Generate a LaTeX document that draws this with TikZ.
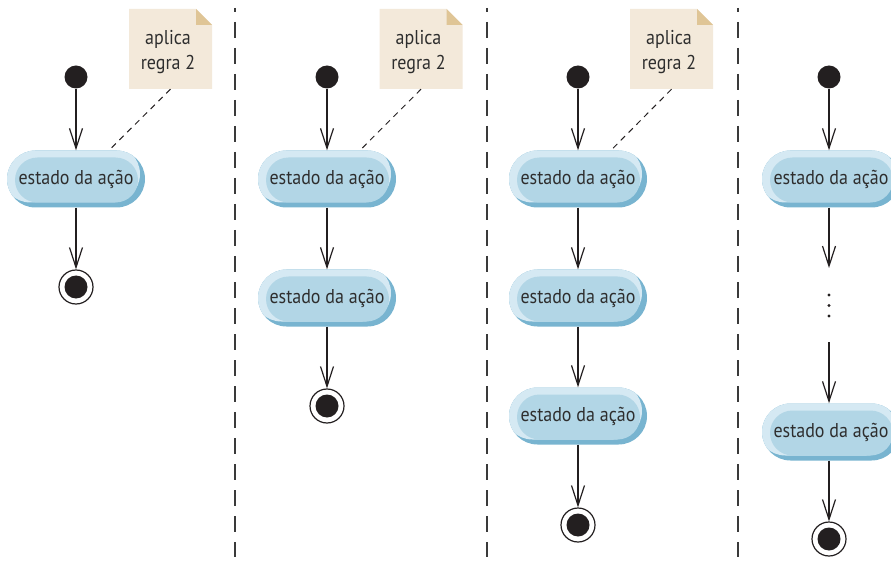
\documentclass[tikz,border=0pt]{standalone}
\usepackage{fontspec}
\setmainfont{PT Sans}[FakeStretch=0.9]
\usetikzlibrary{arrows.meta}
\definecolor{actdark}{HTML}{78B4D0}
\definecolor{actlight}{HTML}{D5E9F3}
\definecolor{actin}{HTML}{B2D6E6}
\definecolor{notefill}{HTML}{F3E9DA}
\definecolor{notefold}{HTML}{DFC596}
\definecolor{ink}{HTML}{231F20}
\definecolor{txt}{HTML}{2E2E2E}
\definecolor{sepcol}{HTML}{3A3A3A}
\newcommand{\notetext}{\hspace*{-5pt}\raisebox{-3pt}[\height][\depth]{aplica}\\\hspace*{-5pt}\raisebox{-3pt}[\height][\depth]{regra 2}}
\tikzset{
  action/.style={rectangle, rounded corners=28.5pt, minimum width=138pt, minimum height=57pt,
    inner sep=0pt, fill=actdark, text=txt, font=\fontsize{20}{24}\selectfont,
    path picture={
      \fill[actlight, rounded corners=28.5pt]
        ([xshift=-5pt,yshift=5pt]path picture bounding box.south west) rectangle
        ([xshift=-5pt,yshift=5pt]path picture bounding box.north east);
      \fill[actin, rounded corners=22.5pt]
        ([xshift=8pt,yshift=5pt]path picture bounding box.south west) rectangle
        ([xshift=-7pt,yshift=-7pt]path picture bounding box.north east);
    }},
  initial/.style={circle, fill=ink, minimum size=23pt, inner sep=0pt},
  final/.style={circle, draw=ink, line width=1.2pt, fill=white, minimum size=34pt, inner sep=0pt,
    path picture={\fill[ink] (path picture bounding box.center) circle (11.5pt);}},
  note/.style={rectangle, fill=white, minimum width=83pt, minimum height=80pt, inner sep=0pt,
    text=txt, align=center, font=\fontsize{20}{25}\selectfont,
    path picture={
      \fill[notefill] (path picture bounding box.south west) -- (path picture bounding box.north west)
        -- ([xshift=-16pt]path picture bounding box.north east)
        -- ([yshift=-16pt]path picture bounding box.north east)
        -- (path picture bounding box.south east) -- cycle;
      \fill[notefold] ([xshift=-16pt]path picture bounding box.north east)
        -- ([xshift=-16pt,yshift=-16pt]path picture bounding box.north east)
        -- ([yshift=-16pt]path picture bounding box.north east) -- cycle;
    }},
  flow/.style={draw=ink, line width=1.2pt, -{Straight Barb[length=20pt,width=13pt]}},
  notelink/.style={draw=ink, line width=1pt, dash pattern=on 6pt off 5pt},
  sepline/.style={draw=sepcol, line width=1.4pt, dash pattern=on 16pt off 10pt, dash phase=12pt},
  dotmark/.style={circle, fill=ink, minimum size=3.2pt, inner sep=0pt}
}
\begin{document}
\begin{tikzpicture}[x=1pt,y=-1pt]
\useasboundingbox (0,0) rectangle (891,561);
\clip (0,0) rectangle (891,561);

% separators
\foreach \sx [count=\i] in {235,487,738}{
  \coordinate (st\i) at (\sx,8);
  \coordinate (sb\i) at (\sx,557);
  \draw[sepline] (st\i) -- (sb\i);
}

% column 1
\node[initial] (i1) at (76,77) {};
\node[action] (a11) at (76,179) {estado da ação};
\node[final] (f1) at (76,287) {};
\node[note] (n1) at (170.5,49) {\notetext};
\draw[flow] (i1) -- (a11);
\draw[flow] (a11) -- (f1);
\draw[notelink] (n1.south) -- ([xshift=33pt]a11.north);

% column 2
\node[initial] (i2) at (327,77) {};
\node[action] (a21) at (327,179) {estado da ação};
\node[action] (a22) at (327,298) {estado da ação};
\node[final] (f2) at (327,406) {};
\node[note] (n2) at (421,49) {\notetext};
\draw[flow] (i2) -- (a21);
\draw[flow] (a21) -- (a22);
\draw[flow] (a22) -- (f2);
\draw[notelink] (n2.south) -- ([xshift=33pt]a21.north);

% column 3
\node[initial] (i3) at (578,77) {};
\node[action] (a31) at (578,179) {estado da ação};
\node[action] (a32) at (578,298) {estado da ação};
\node[action] (a33) at (578,416) {estado da ação};
\node[final] (f3) at (578,525) {};
\node[note] (n3) at (671.5,49) {\notetext};
\draw[flow] (i3) -- (a31);
\draw[flow] (a31) -- (a32);
\draw[flow] (a32) -- (a33);
\draw[flow] (a33) -- (f3);
\draw[notelink] (n3.south) -- ([xshift=33pt]a31.north);

% column 4
\node[initial] (i4) at (829,77) {};
\node[action] (a41) at (831,179) {estado da ação};
\coordinate (c4a) at (829,268);
\node[dotmark] (d1) at (829,295) {};
\node[dotmark] (d2) at (829,305.5) {};
\node[dotmark] (d3) at (829,316) {};
\coordinate (c4b) at (829,342);
\node[action] (a42) at (831,432) {estado da ação};
\node[final] (f4) at (829,539) {};
\draw[flow] (i4) -- (i4 |- a41.north);
\draw[flow] (a41.south -| c4a) -- (c4a);
\draw[flow] (c4b) -- (c4b |- a42.north);
\draw[flow] (a42.south -| f4) -- (f4);
\end{tikzpicture}
\end{document}
